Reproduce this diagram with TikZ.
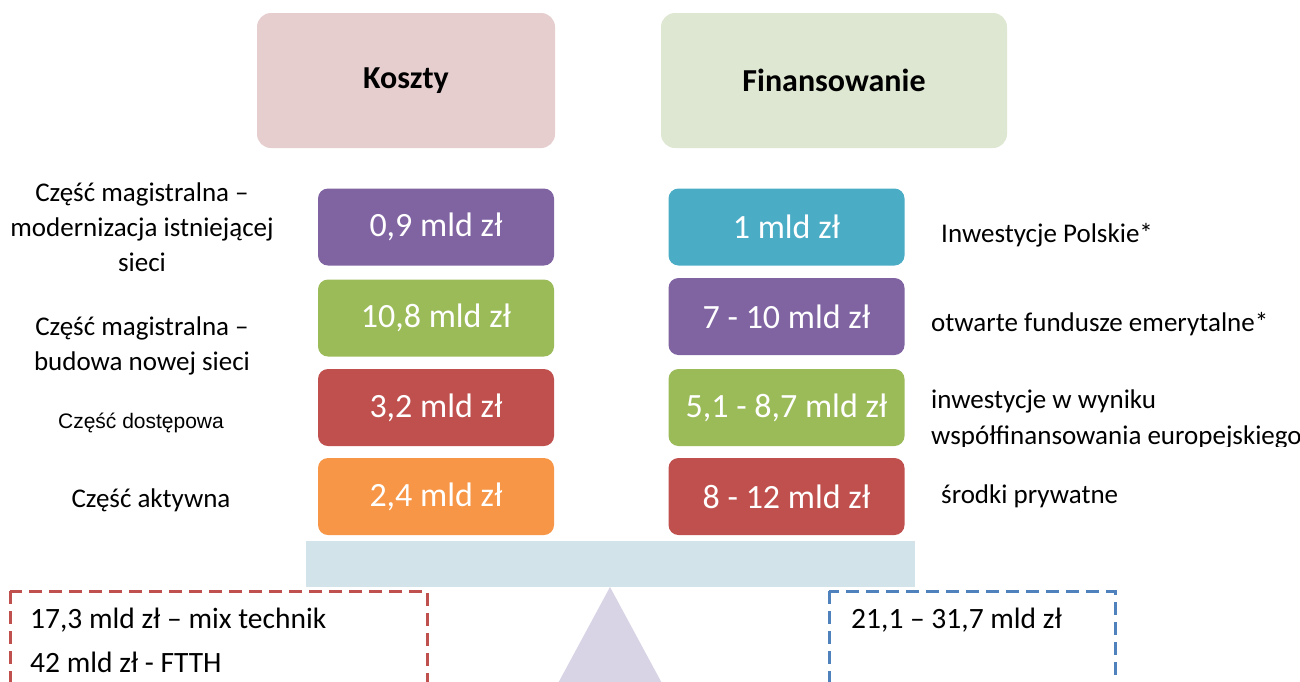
\documentclass[tikz,border=0pt]{standalone}
\usepackage{fontspec}
\setmainfont{Carlito}
\newfontfamily\arialfont{Liberation Sans}
\usepackage{tikz}

\definecolor{kosztybg}{RGB}{230,206,207}
\definecolor{finbg}{RGB}{222,231,209}
\definecolor{offpurple}{RGB}{128,100,162}
\definecolor{offgreen}{RGB}{155,187,89}
\definecolor{offred}{RGB}{192,80,77}
\definecolor{offorange}{RGB}{247,150,70}
\definecolor{offteal}{RGB}{75,172,198}
\definecolor{offblue}{RGB}{79,129,189}
\definecolor{beambg}{RGB}{210,227,233}
\definecolor{pivotbg}{RGB}{216,211,229}

\tikzset{
	header/.style={fill=#1, rounded corners=14pt, minimum height=135pt, font=\bfseries\fontsize{32}{38}\selectfont},
	valbox/.style={fill=#1, rounded corners=10pt, minimum width=236pt, minimum height=77pt, text=white, font=\fontsize{34}{40}\selectfont},
	lbl/.style={inner sep=0pt, font=\fontsize{27}{35}\selectfont},
	dashbox/.style={draw=#1, line width=3pt, dash pattern=on 13pt off 7pt},
}

\begin{document}
\begin{tikzpicture}[x=1pt,y=-1pt]

	\clip (0,0) rectangle (1300,681);

	\node[header=kosztybg, minimum width=298pt] (koszty) at (406,80.5) {Koszty};
	\node[header=finbg, minimum width=346pt] (finans) at (834,80.5) {Finansowanie};

	\node[valbox=offpurple] (k1) at (436,227) {0,9 mld zł};
	\node[valbox=offgreen] (k2) at (436,318) {10,8 mld zł};
	\node[valbox=offred] (k3) at (436,407.5) {3,2 mld zł};
	\node[valbox=offorange] (k4) at (436,496.5) {2,4 mld zł};

	\node[valbox=offteal] (f1) at (786.5,227) {1 mld zł};
	\node[valbox=offpurple] (f2) at (786.5,316.5) {7 - 10 mld zł};
	\node[valbox=offgreen] (f3) at (786.5,407.5) {5,1 - 8,7 mld zł};
	\node[valbox=offred] (f4) at (786.5,496.5) {8 - 12 mld zł};

	\node[lbl, align=center] (l1) at (142,227) {Część magistralna –\\modernizacja istniejącej\\sieci};
	\node[lbl, align=center] (l2) at (142,346) {Część magistralna –\\budowa nowej sieci};
	\node[inner sep=0pt, font=\arialfont\fontsize{21}{25}\selectfont] (l3) at (141,423) {Część dostępowa};
	\node[lbl] (l4) at (151,500) {Część aktywna};

	\node[lbl, anchor=base west] (r1) at (941,242) {Inwestycje Polskie*};
	\node[lbl, anchor=base west] (r2) at (931,331) {otwarte fundusze emerytalne*};
	\begin{scope}
		\clip (900,380) rectangle (1300,446);
		\node[lbl, anchor=base west, align=left, font=\fontsize{27}{36}\selectfont] (r3) at (931,444) {inwestycje w wyniku\\współfinansowania europejskiego};
	\end{scope}
	\node[lbl, anchor=base west] (r4) at (941,503) {środki prywatne};

	\coordinate (apex) at (610,587);
	\fill[pivotbg] (apex) -- (549,700) -- (671,700) -- cycle;
	\fill[beambg] (306,541) rectangle (915,587);

	\draw[dashbox=offred] (10,591) rectangle (427,700);
	\draw[dashbox=offblue] (829,591) rectangle (1115,700);

	\node[inner sep=0pt, anchor=base west, align=left, font=\fontsize{29.5}{43.5}\selectfont] (mix) at (30,672) {17,3 mld zł – mix technik\\42 mld zł - FTTH};
	\node[inner sep=0pt, anchor=base west, font=\fontsize{29.5}{43.5}\selectfont] (suma) at (851,628) {21,1 – 31,7 mld zł};

\end{tikzpicture}
\end{document}
